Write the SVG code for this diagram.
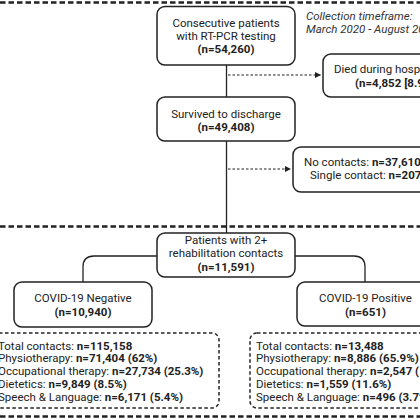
<svg xmlns="http://www.w3.org/2000/svg" width="420" height="420" viewBox="0 0 420 420">
<defs>
<style>
text{font-family:Roboto,"Liberation Sans",sans-serif;font-size:11.5px;fill:#222}
.c{text-anchor:middle}
.b{font-weight:bold}
.box{fill:#fff;stroke:#222;stroke-width:1.5}
.dbox{fill:none;stroke:#222;stroke-width:1.5;stroke-dasharray:3.5 2.5}
.sep{fill:none;stroke:#222;stroke-width:2.6;stroke-dasharray:5.5 3}
.ln{fill:none;stroke:#222;stroke-width:1.3}
.dot{fill:none;stroke:#222;stroke-width:1.2;stroke-dasharray:2.5 2}
.it{font-style:italic;fill:#333}
</style>
<marker id="ah" viewBox="0 0 10 10" refX="10" refY="5" markerWidth="6" markerHeight="6" markerUnits="userSpaceOnUse" orient="auto">
<path d="M0,0 L10,5 L0,10 z" fill="#222"/>
</marker>
</defs>
<g id="separators">
<line class="sep" x1="0" y1="2.5" x2="420" y2="2.5"/>
<line class="sep" x1="0" y1="226.5" x2="420" y2="226.5"/>
<line class="sep" x1="0" y1="416.5" x2="420" y2="416.5"/>
</g>
<g id="connectors">
<line class="ln" x1="226.5" y1="65" x2="226.5" y2="97"/>
<line class="ln" x1="226.5" y1="141" x2="226.5" y2="233"/>
<line class="dot" x1="228" y1="75" x2="321" y2="75" marker-end="url(#ah)"/>
<line class="dot" x1="228" y1="169" x2="291" y2="169" marker-end="url(#ah)"/>
<path class="ln" d="M157,256 H94 Q83,256 83,267 V282"/>
<path class="ln" d="M295,256 H354 Q365,256 365,267 V282"/>
</g>
<g id="timeframe">
<text class="it" x="306" y="20">Collection timeframe:</text>
<text class="it" x="306" y="33">March 2020 - August 2020</text>
</g>
<g id="consecutive">
<rect class="box" x="157" y="6.5" width="138" height="58.5" rx="8"/>
<text class="c" x="226" y="27">Consecutive patients</text>
<text class="c" x="226" y="39.5">with RT-PCR testing</text>
<text class="c b" x="226" y="52.5">(n=54,260)</text>
</g>
<g id="died">
<rect class="box" x="323" y="54" width="150" height="43" rx="8"/>
<text x="334" y="73">Died during hospitalisation</text>
<text class="b" x="355" y="87">(n=4,852 [8.9%])</text>
</g>
<g id="survived">
<rect class="box" x="157" y="97" width="138" height="44" rx="8"/>
<text class="c" x="226" y="118">Survived to discharge</text>
<text class="c b" x="226" y="130.5">(n=49,408)</text>
</g>
<g id="excluded">
<rect class="box" x="293" y="147" width="160" height="45" rx="8"/>
<text x="304" y="165.5">No contacts: <tspan class="b">n=37,610</tspan></text>
<text x="310" y="178.5">Single contact: <tspan class="b">n=207</tspan></text>
</g>
<g id="rehab">
<rect class="box" x="157" y="233" width="138" height="44" rx="8"/>
<text class="c" x="226" y="244">Patients with 2+</text>
<text class="c" x="226" y="257">rehabilitation contacts</text>
<text class="c b" x="226" y="270.5">(n=11,591)</text>
</g>
<g id="negative">
<rect class="box" x="14" y="282" width="138" height="45" rx="8"/>
<text class="c" x="83" y="301.5">COVID-19 Negative</text>
<text class="c b" x="83" y="315.5">(n=10,940)</text>
</g>
<g id="positive">
<rect class="box" x="297" y="282" width="137" height="44" rx="8"/>
<text class="c" x="365.5" y="301.5">COVID-19 Positive</text>
<text class="c b" x="365.5" y="315.5">(n=651)</text>
</g>
<g id="negative-contacts">
<rect class="dbox" x="-8" y="333" width="227" height="75" rx="7"/>
<text x="-2" y="349.5">Total contacts: <tspan class="b">n=115,158</tspan></text>
<text x="-2" y="362.4">Physiotherapy: <tspan class="b">n=71,404 (62%)</tspan></text>
<text x="-2" y="375.3">Occupational therapy: <tspan class="b">n=27,734 (25.3%)</tspan></text>
<text x="-2" y="388.2">Dietetics: <tspan class="b">n=9,849 (8.5%)</tspan></text>
<text x="-2" y="401.1">Speech &amp; Language: <tspan class="b">n=6,171 (5.4%)</tspan></text>
</g>
<g id="positive-contacts">
<rect class="dbox" x="250" y="333" width="227" height="75" rx="7"/>
<text x="256" y="349.5">Total contacts: <tspan class="b">n=13,488</tspan></text>
<text x="256" y="362.4">Physiotherapy: <tspan class="b">n=8,886 (65.9%)</tspan></text>
<text x="256" y="375.3">Occupational therapy: <tspan class="b">n=2,547 (18.9%)</tspan></text>
<text x="256" y="388.2">Dietetics: <tspan class="b">n=1,559 (11.6%)</tspan></text>
<text x="256" y="401.1">Speech &amp; Language: <tspan class="b">n=496 (3.7%)</tspan></text>
</g>
</svg>
